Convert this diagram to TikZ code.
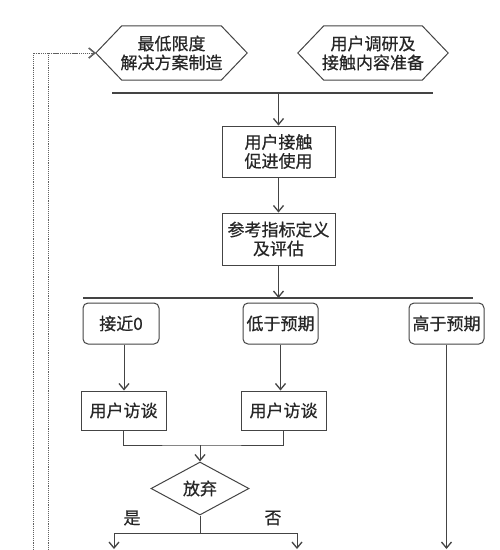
\documentclass[tikz,border=0pt]{standalone}
\usepackage{fontspec}
\setmainfont{Noto Sans CJK SC}[BoldFont={Noto Sans CJK SC},BoldFeatures={FakeBold=0.6}]
\usetikzlibrary{arrows.meta,shapes.geometric}
\definecolor{ln}{HTML}{444444}
\definecolor{tx}{HTML}{262626}
\tikzset{
  every node/.style={text=tx,font=\fontsize{17}{19}\selectfont\bfseries,align=center,inner sep=0pt},
  conn/.style={draw=ln,line width=1pt},
  arr/.style={conn,-{Straight Barb[length=6pt,width=10pt,line width=1.3pt]}},
  bar/.style={draw=ln,line width=1.5pt},
  boxx/.style={draw=ln,line width=1pt,minimum height=51pt},
  rbox/.style={draw=ln,line width=1pt,rounded corners=5pt,minimum width=75pt,minimum height=41pt},
  ibox/.style={draw=ln,line width=1pt,minimum width=85pt,minimum height=39pt},
  dots/.style={draw=ln!85,line width=0.9pt,densely dotted},
  dotarr/.style={dots,-{Straight Barb[length=6pt,width=10pt,line width=1.3pt]}},
}
\begin{document}
\begin{tikzpicture}[x=1pt,y=-1pt]
\useasboundingbox[fill=white] (0,0) rectangle (500,550);
% hexagons
\node[minimum width=151pt,minimum height=54pt] (h1) at (171.5,53) {最低限度\\解决方案制造};
\node[minimum width=150pt,minimum height=54pt] (h2) at (373,53) {用户调研及\\接触内容准备};
\foreach \h in {h1,h2}{
  \draw[conn] ([xshift=26pt]\h.north west) -- ([xshift=-26pt]\h.north east) -- (\h.east)
    -- ([xshift=-26pt]\h.south east) -- ([xshift=26pt]\h.south west) -- (\h.west) -- cycle;
}
% bar 1
\coordinate (b1l) at (112,93);
\coordinate (b1r) at (433,93);
\draw[bar] (b1l) -- (b1r);
\node[boxx,minimum width=113pt] (s1) at (278.5,151.5) {用户接触\\促进使用};
\node[boxx,minimum width=113pt,minimum height=52pt] (s2) at (278.5,239) {参考指标定义\\及评估};
\draw[arr] (s1.north |- b1l) -- (s1.north);
\draw[arr] (s1.south) -- (s2.north);
% bar 2
\coordinate (b2l) at (83,298);
\coordinate (b2r) at (473,298);
\draw[arr] (s2.south) -- (s2.south |- b2l);
\draw[bar] (b2l) -- (b2r);
\node[rbox,minimum width=76pt] (a) at (121,323.5) {接近0};
\node[rbox] (b) at (280.5,323.5) {低于预期};
\node[rbox] (c) at (446.5,323.5) {高于预期};
\node[ibox] (d) at (123.5,410.5) {用户访谈};
\node[ibox] (e) at (283.5,410.5) {用户访谈};
\draw[arr] ([xshift=3pt]a.south) -- ([xshift=3pt]a.south |- d.north);
\draw[arr] (b.south) -- (b.south |- e.north);
% join
\coordinate (j) at (200,445);
\draw[conn] (d.south) |- (j) -| (e.south);
\node[draw=ln,line width=1pt,diamond,minimum width=98pt,minimum height=53pt] (g) at (200,488.5) {放弃};
\draw[arr] (j) -- (g.north);
\coordinate (k) at (200,533);
\coordinate (kl) at (114,533);
\coordinate (kr) at (297,533);
\coordinate (yl) at (114,549);
\coordinate (yr) at (297,549);
\coordinate (yc) at (448,549);
\draw[conn] (g.south) -- (k);
\draw[conn] (kl) -- (kr);
\draw[arr] (kl) -- (yl);
\draw[arr] (kr) -- (yr);
\draw[arr] (c.south) -- (c.south |- yc);
\node (yes) at (132,518) {是};
\node (no) at (273,518) {否};
% dotted feedback lines
\coordinate (o1) at (33,550);
\coordinate (o2) at (48,550);
\draw[dotarr] (o1) |- (h1.west);
\draw[dotarr] (o2) |- (h1.west);
\end{tikzpicture}
\end{document}
